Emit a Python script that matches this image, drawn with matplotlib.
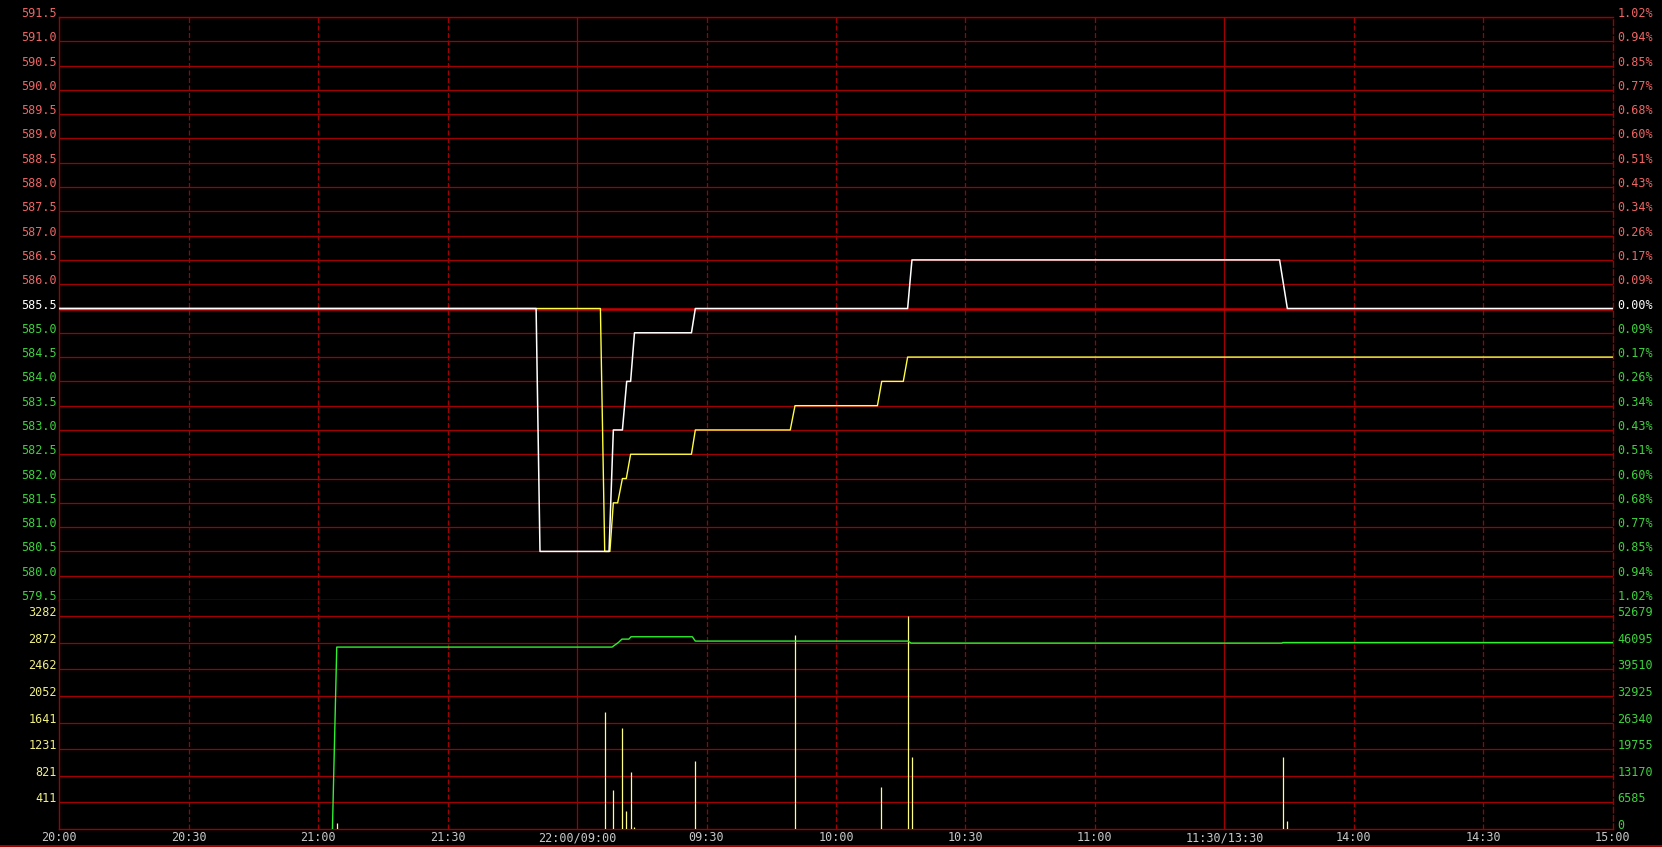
import matplotlib
matplotlib.use("Agg")
import matplotlib.pyplot as plt
from matplotlib.lines import Line2D

# x axis is minutes from 20:00, night session then day session, no gaps
time_ticks = [0, 30, 60, 90, 120, 150, 180, 210, 240, 270, 300, 330, 360]
time_labels = ["20:00", "20:30", "21:00", "21:30", "22:00/09:00", "09:30", "10:00",
               "10:30", "11:00", "11:30/13:30", "14:00", "14:30", "15:00"]
session_breaks = [120, 270]

price_ticks = [579.5, 580.0, 580.5, 581.0, 581.5, 582.0, 582.5, 583.0, 583.5, 584.0,
               584.5, 585.0, 585.5, 586.0, 586.5, 587.0, 587.5, 588.0, 588.5, 589.0,
               589.5, 590.0, 590.5, 591.0, 591.5]
pct_labels = ["1.02%", "0.94%", "0.85%", "0.77%", "0.68%", "0.60%", "0.51%", "0.43%",
              "0.34%", "0.26%", "0.17%", "0.09%", "0.00%", "0.09%", "0.17%", "0.26%",
              "0.34%", "0.43%", "0.51%", "0.60%", "0.68%", "0.77%", "0.85%", "0.94%", "1.02%"]
prev_close = 585.5

# last price (white)
price_t = [0, 110.5, 111.4, 127.4, 128.4, 130.5, 131.5, 132.4, 133.3, 146.5, 147.4,
           196.6, 197.6, 282.8, 284.6, 360]
price_v = [585.5, 585.5, 580.5, 580.5, 583.0, 583.0, 584.0, 584.0, 585.0, 585.0, 585.5,
           585.5, 586.5, 586.5, 585.5, 585.5]

# average price (yellow)
avg_t = [0, 125.4, 126.4, 127.6, 128.4, 129.4, 130.5, 131.4, 132.4, 146.5, 147.4,
         169.4, 170.5, 189.6, 190.6, 195.6, 196.6, 360]
avg_v = [585.5, 585.5, 580.5, 580.5, 581.5, 581.5, 582.0, 582.0, 582.5, 582.5, 583.0,
         583.0, 583.5, 583.5, 584.0, 584.0, 584.5, 584.5]

# volume bars
vol_t = [64.3, 126.4, 128.4, 130.5, 131.4, 132.4, 133.3, 147.4, 170.4, 190.5, 196.7,
         197.5, 283.7, 284.6]
vol_v = [90, 1805, 601, 1558, 282, 879, 35, 1049, 2992, 648, 3282, 1110, 1106, 128]
vol_ticks = [411, 821, 1231, 1641, 2052, 2462, 2872, 3282]

# open interest (green, right axis)
oi_t = [63.3, 64.3, 128.1, 129.6, 130.4, 132.0, 132.5, 146.7, 147.4, 196.7, 197.4,
        283.3, 283.6, 360]
oi_v = [0, 45055, 45055, 46220, 47030, 47030, 47610, 47610, 46540, 46540, 46040,
        46040, 46180, 46180]
oi_ticks = [0, 6585, 13170, 19755, 26340, 32925, 39510, 46095, 52679]

GRID = "#a00000"
DASH = (0, (4, 2))
UP, DOWN = "#f06464", "#3cd23c"
FONT = "DejaVu Sans Mono"
FS = 8.5

W, H = 1662, 847
L, R = 59.3, 1612.7
fig = plt.figure(figsize=(W / 100, H / 100), dpi=100, facecolor="black")


def box(top, bottom):
    return [L / W, 1 - bottom / H, (R - L) / W, (bottom - top) / H]


ax_p = fig.add_axes(box(17, 600))
ax_v = fig.add_axes(box(600, 829))

for ax in (ax_p, ax_v):
    ax.set_facecolor("black")
    ax.set_xlim(0, 360)
    ax.set_xticks(time_ticks)
    for s in ax.spines.values():
        s.set_color(GRID)
        s.set_linewidth(1)
    ax.spines["right"].set_linestyle(DASH)
    ax.grid(axis="y", color=GRID, lw=0.9)
    ax.set_axisbelow(True)
    for t in time_ticks[1:-1]:
        ax.axvline(t, color=GRID, lw=0.9, ls="-" if t in session_breaks else DASH, zorder=1)
    ax.tick_params(length=0)
ax_v.spines["top"].set_visible(False)

# price panel
ax_p.set_ylim(price_ticks[0], price_ticks[-1])
ax_p.set_yticks(price_ticks)
ax_p.set_yticklabels([f"{p:.1f}" for p in price_ticks], family=FONT, fontsize=FS)
ax_p.set_xticklabels([])
ax_p.tick_params(axis="y", pad=1.9)
colors = [UP if p > prev_close else ("white" if p == prev_close else DOWN) for p in price_ticks]
for lbl, c in zip(ax_p.get_yticklabels(), colors):
    lbl.set_color(c)
    lbl.set_va("baseline")
ax_p.axhline(prev_close, color="#c80000", lw=1.8, zorder=1.5)

ax_pr = ax_p.twinx()
ax_pr.set_ylim(price_ticks[0], price_ticks[-1])
ax_pr.set_yticks(price_ticks)
ax_pr.set_yticklabels(pct_labels, family=FONT, fontsize=FS)
ax_pr.tick_params(length=0, pad=3.3)
for s in ax_pr.spines.values():
    s.set_visible(False)
for lbl, c in zip(ax_pr.get_yticklabels(), colors):
    lbl.set_color(c)
    lbl.set_va("baseline")

ax_p.plot(avg_t, avg_v, color="#ffff40", lw=1.0, zorder=3)
ax_p.plot(price_t, price_v, color="white", lw=1.1, zorder=4)

# volume panel
ax_v.set_ylim(0, 3282 * 229 / 212.7)
ax_v.set_yticks(vol_ticks)
ax_v.set_yticklabels([str(v) for v in vol_ticks], family=FONT, fontsize=FS, color="#f0f080")
ax_v.tick_params(axis="y", pad=1.9)
for lbl in ax_v.get_yticklabels():
    lbl.set_va("baseline")
ax_v.set_xticklabels(time_labels, family=FONT, fontsize=FS, color="#c8c8c8")
ax_v.tick_params(axis="x", pad=1.5)
ax_v.vlines(vol_t, 0, vol_v, color="#ffff80", lw=0.9, zorder=3)

ax_oi = ax_v.twinx()
ax_oi.set_ylim(0, 52679 * 229 / 212.7)
ax_oi.set_yticks(oi_ticks)
ax_oi.set_yticklabels([str(v) for v in oi_ticks], family=FONT, fontsize=FS, color=DOWN)
ax_oi.tick_params(length=0, pad=3.3)
for s in ax_oi.spines.values():
    s.set_visible(False)
for lbl in ax_oi.get_yticklabels():
    lbl.set_va("baseline")
ax_oi.plot(oi_t, oi_v, color="#30f030", lw=1.0, zorder=3)

fig.add_artist(Line2D([0, 1], [1 - 845.5 / H] * 2, color="#c00000", lw=1.2,
                      transform=fig.transFigure))

fig.savefig("out.png", dpi=100, facecolor="black")
